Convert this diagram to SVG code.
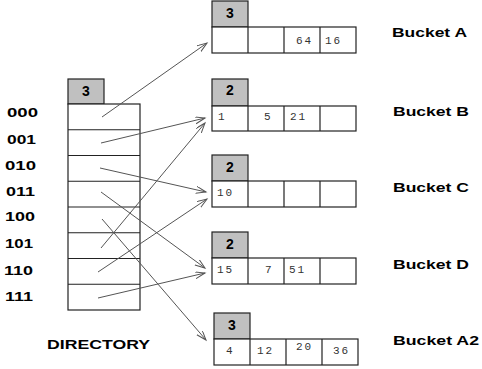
<svg xmlns="http://www.w3.org/2000/svg" width="482" height="369" viewBox="0 0 482 369">
<style>
.bg{fill:#fff}
.hdr{fill:#c0c0c0;stroke:#222;stroke-width:1.2}
.cell{fill:#fff;stroke:#222;stroke-width:1.2}
.ln{stroke:#222;stroke-width:1.2;fill:none}
.lbl{font-family:"Liberation Sans",Arial,sans-serif;font-weight:bold;font-size:13px;fill:#000}
.hd{font-family:"Liberation Sans",Arial,sans-serif;font-weight:bold;font-size:14px;fill:#000;text-anchor:middle}
.num{font-family:"Liberation Mono","Courier New",monospace;font-size:11px;fill:#333;letter-spacing:2px}
.arr{stroke:#555;stroke-width:1;fill:none;marker-end:url(#ah)}
</style>
<defs>
<marker id="ah" markerUnits="userSpaceOnUse" markerWidth="12" markerHeight="8" refX="10" refY="3.5" orient="auto">
<path d="M0,0 L10,3.5 L0,7" fill="none" stroke="#555" stroke-width="1"/>
</marker>
</defs>
<rect class="bg" x="0" y="0" width="482" height="369"/>

<g id="directory">
<rect class="hdr" x="68" y="79" width="36" height="25"/>
<text class="hd" x="86" y="96">3</text>
<rect class="cell" x="68" y="104" width="72" height="206"/>
<path class="ln" d="M68,129.75H140M68,155.5H140M68,181.25H140M68,207H140M68,232.75H140M68,258.5H140M68,284.25H140"/>
<text class="lbl" x="7" y="117" textLength="31" lengthAdjust="spacingAndGlyphs">000</text>
<text class="lbl" x="7" y="144" textLength="29" lengthAdjust="spacingAndGlyphs">001</text>
<text class="lbl" x="5" y="170" textLength="31" lengthAdjust="spacingAndGlyphs">010</text>
<text class="lbl" x="6" y="196" textLength="29" lengthAdjust="spacingAndGlyphs">011</text>
<text class="lbl" x="5" y="221" textLength="30" lengthAdjust="spacingAndGlyphs">100</text>
<text class="lbl" x="5" y="248" textLength="28" lengthAdjust="spacingAndGlyphs">101</text>
<text class="lbl" x="4" y="275" textLength="29" lengthAdjust="spacingAndGlyphs">110</text>
<text class="lbl" x="5" y="301" textLength="28" lengthAdjust="spacingAndGlyphs">111</text>
<text class="lbl" x="47" y="349" textLength="103" lengthAdjust="spacingAndGlyphs">DIRECTORY</text>
</g>

<g id="bucketA">
<rect class="hdr" x="212" y="1" width="36" height="26"/>
<text class="hd" x="230" y="18">3</text>
<rect class="cell" x="212" y="27" width="144" height="26"/>
<path class="ln" d="M248,27V53M284,27V53M320,27V53"/>
<text class="num" x="296" y="44">64</text>
<text class="num" x="325" y="44">16</text>
<text class="lbl" x="392" y="37" textLength="75" lengthAdjust="spacingAndGlyphs">Bucket A</text>
</g>

<g id="bucketB">
<rect class="hdr" x="212" y="79" width="36" height="27"/>
<text class="hd" x="230" y="95">2</text>
<rect class="cell" x="212" y="106" width="144" height="25"/>
<path class="ln" d="M248,106V131M284,106V131M320,106V131"/>
<text class="num" x="218" y="120">1</text>
<text class="num" x="264" y="120">5</text>
<text class="num" x="290" y="120">21</text>
<text class="lbl" x="393" y="116" textLength="76" lengthAdjust="spacingAndGlyphs">Bucket B</text>
</g>

<g id="bucketC">
<rect class="hdr" x="212" y="155" width="36" height="26"/>
<text class="hd" x="230" y="172">2</text>
<rect class="cell" x="212" y="181" width="144" height="26"/>
<path class="ln" d="M248,181V207M284,181V207M320,181V207"/>
<text class="num" x="217" y="196">10</text>
<text class="lbl" x="393" y="192" textLength="76" lengthAdjust="spacingAndGlyphs">Bucket C</text>
</g>

<g id="bucketD">
<rect class="hdr" x="212" y="232" width="36" height="26"/>
<text class="hd" x="230" y="249">2</text>
<rect class="cell" x="212" y="258" width="144" height="26"/>
<path class="ln" d="M248,258V284M284,258V284M320,258V284"/>
<text class="num" x="217" y="273">15</text>
<text class="num" x="265" y="273">7</text>
<text class="num" x="289" y="273">51</text>
<text class="lbl" x="393" y="269" textLength="76" lengthAdjust="spacingAndGlyphs">Bucket D</text>
</g>

<g id="bucketA2">
<rect class="hdr" x="214" y="313" width="36" height="26"/>
<text class="hd" x="232" y="330">3</text>
<rect class="cell" x="214" y="339" width="144" height="26"/>
<path class="ln" d="M250,339V365M286,339V365M322,339V365"/>
<text class="num" x="226" y="354">4</text>
<text class="num" x="257" y="354">12</text>
<text class="num" x="296" y="350">20</text>
<text class="num" x="333" y="354">36</text>
<text class="lbl" x="393" y="345" textLength="86" lengthAdjust="spacingAndGlyphs">Bucket A2</text>
</g>

<g id="connectors">
<line class="arr" x1="102" y1="117" x2="207" y2="43"/>
<line class="arr" x1="101" y1="143" x2="205" y2="118"/>
<line class="arr" x1="100" y1="168" x2="206" y2="192"/>
<line class="arr" x1="101" y1="192" x2="205" y2="268"/>
<line class="arr" x1="102" y1="219" x2="206" y2="340"/>
<line class="arr" x1="101" y1="248" x2="205" y2="123"/>
<line class="arr" x1="98" y1="272" x2="207" y2="199"/>
<line class="arr" x1="98" y1="298" x2="205" y2="273"/>
</g>
</svg>
